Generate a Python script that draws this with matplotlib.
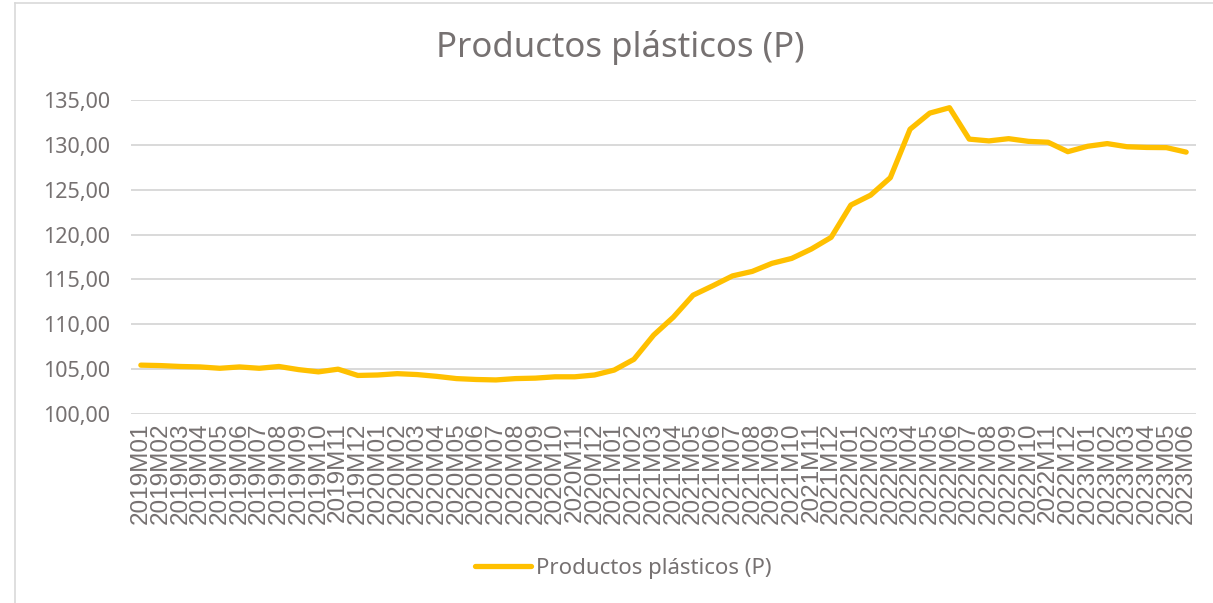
import matplotlib
matplotlib.use("Agg")
import matplotlib.pyplot as plt
import matplotlib.ticker as ticker
from matplotlib.lines import Line2D

# monthly periods 2019M01 .. 2023M06
years = [2019, 2020, 2021, 2022, 2023]
months_per_year = [12, 12, 12, 12, 6]
periods = [f"{y}M{m:02d}" for y, n in zip(years, months_per_year) for m in range(1, n + 1)]

values = [
    105.45, 105.40, 105.30, 105.25, 105.10, 105.25, 105.10, 105.30, 104.95, 104.70, 105.00, 104.30,
    104.35, 104.50, 104.40, 104.20, 103.95, 103.85, 103.80, 103.95, 104.00, 104.15, 104.15, 104.35,
    104.90, 106.10, 108.80, 110.80, 113.25, 114.30, 115.40, 115.90, 116.80, 117.35, 118.40, 119.70,
    123.30, 124.40, 126.35, 131.75, 133.55, 134.15, 130.65, 130.45, 130.70, 130.40, 130.30, 129.25,
    129.85, 130.15, 129.80, 129.72, 129.70, 129.20,
]

series_name = "Productos plásticos (P)"
y_ticks = [100, 105, 110, 115, 120, 125, 130, 135]

LINE = "#FFC000"
GRID = "#D9D9D9"
TEXT = "#767171"

plt.rcParams["font.family"] = ["Noto Sans", "DejaVu Sans"]

fig = plt.figure(figsize=(12.13, 6.03), dpi=100)
ax = fig.add_axes([0.108, 0.3134, 0.878, 0.5206])

x = range(len(periods))
ax.plot(x, values, color=LINE, lw=3.8, solid_joinstyle="round", solid_capstyle="round",
        label=series_name, zorder=3)

ax.set_xlim(-0.5, len(periods) - 0.5)
ax.set_ylim(100, 135)
ax.set_yticks(y_ticks)
ax.yaxis.set_major_formatter(ticker.FuncFormatter(lambda v, p: f"{v:.2f}".replace(".", ",")))
ax.set_xticks(list(x))
ax.set_xticklabels(periods, rotation=90, fontsize=17.5, color=TEXT,
                   family=["Liberation Sans", "DejaVu Sans"])
ax.tick_params(axis="y", labelsize=15.5, labelcolor=TEXT, length=0, pad=15)
ax.tick_params(axis="x", length=0, pad=6)

ax.grid(axis="y", color=GRID, lw=1.4)
ax.set_axisbelow(True)
for spine in ax.spines.values():
    spine.set_visible(False)

fig.text(0.511, 0.922, series_name, ha="center", va="center", fontsize=25, color=TEXT)

fig.legend(handles=[Line2D([0], [0], color=LINE, lw=3.8, solid_capstyle="round")],
           labels=[series_name], loc="center", bbox_to_anchor=(0.514, 0.058), frameon=False,
           fontsize=16, labelcolor=TEXT, handlelength=2.5, handletextpad=0.25)

# chart area border (partially visible in the reference)
fig.add_artist(Line2D([0.0125, 0.0125], [0, 0.995], transform=fig.transFigure, color=GRID, lw=1.2))
fig.add_artist(Line2D([0.0125, 1.0], [0.995, 0.995], transform=fig.transFigure, color=GRID, lw=1.2))

fig.savefig("out.png", dpi=100)
